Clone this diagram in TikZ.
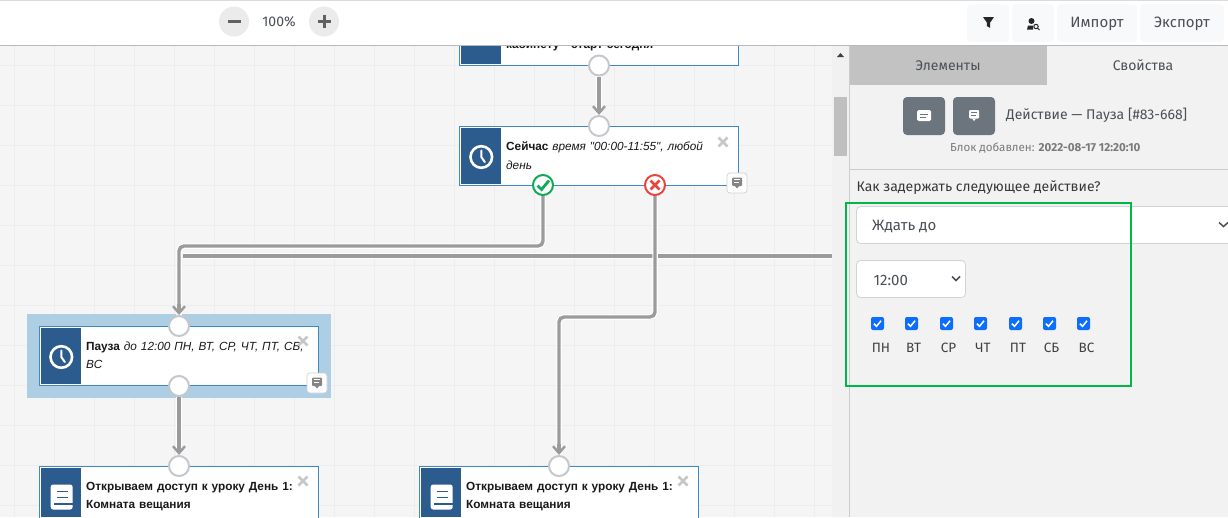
\documentclass[tikz,border=0pt]{standalone}
\usepackage{fontspec}
\setmainfont{Fira Sans}
\newfontfamily\arialf{Liberation Sans}
\usetikzlibrary{arrows.meta,calc}
\definecolor{gridbg}{HTML}{F5F5F5}
\definecolor{gridln}{HTML}{EDEDED}
\definecolor{panelbg}{HTML}{F2F2F2}
\definecolor{blockblue}{HTML}{2C5B8E}
\definecolor{blockedge}{HTML}{3D8BC4}
\definecolor{selbg}{HTML}{AECFE3}
\definecolor{wire}{HTML}{9B9B9B}
\definecolor{portedge}{HTML}{C4C8CC}
\definecolor{txt}{HTML}{495057}
\definecolor{okgreen}{HTML}{0FA958}
\definecolor{badred}{HTML}{E8453C}
\definecolor{framegreen}{HTML}{00B84A}
\definecolor{btnbg}{HTML}{F8F9FA}
\definecolor{btngrey}{HTML}{6C757D}
\definecolor{zoombg}{HTML}{EBEBEB}
\definecolor{checkblue}{HTML}{0D6EFD}
\definecolor{inputedge}{HTML}{CED4DA}
\definecolor{trackbg}{HTML}{F1F1F1}
\tikzset{
 x=1pt,y=-1pt,
 blockbox/.style={draw=blockedge,line width=1pt,fill=white,minimum height=0pt,inner sep=0pt,minimum width=279pt,anchor=north west},
 port/.style={circle,draw=portedge,fill=white,line width=2pt,minimum size=20pt,inner sep=0pt},
 okport/.style={port,draw=okgreen},
 badport/.style={port,draw=badred},
 wireline/.style={draw=white,line width=5.5pt,rounded corners=5pt},
 wiretop/.style={draw=wire,line width=3.4pt,rounded corners=5pt},
 headline/.style={draw=wire,line width=3.4pt,-{Straight Barb[length=7pt,width=12pt,line width=2.4pt]}},
 blocktext/.style={anchor=north west,align=left,text width=#1,inner sep=0pt,font=\arialf\fontsize{11.8}{18.2}\selectfont,text=black!90},
 closex/.style={draw=black!22,line width=2.6pt},
 uitext/.style={inner sep=0pt,text=txt,font=\fontsize{14}{16}\selectfont},
 selecttext/.style={uitext,anchor=west,font=\fontsize{15}{16}\selectfont},
 toolbtn/.style={fill=btnbg,rounded corners=4pt,draw=none},
 roundbtn/.style={circle,fill=zoombg,minimum size=30pt,inner sep=0pt},
 greybtn/.style={fill=btngrey,rounded corners=4pt,draw=none},
 chk/.style={fill=checkblue,rounded corners=2pt,minimum size=13pt,inner sep=0pt},
 chkmark/.style={draw=white,line width=1.5pt},
 daylabel/.style={inner sep=0pt,text=black!75,font=\fontsize{13.5}{14}\selectfont},
 noteicon/.style={fill=white,draw=black!18,line width=.7pt,rounded corners=3pt},
}
\newcommand{\clockicon}[1]{%
 \draw[white,line width=2.6pt] (#1) circle (10.8pt);
 \draw[white,line width=2pt,line cap=round] ($(#1)+(0,-6.5)$) -- ($(#1)+(0,0)$) -- ($(#1)+(3.5,5)$);
}
\newcommand{\bookicon}[1]{%
 \fill[white,rounded corners=2.5pt] ($(#1)+(-11,-12.5)$) rectangle ($(#1)+(11,12.5)$);
 \draw[blockblue,line width=1.1pt] ($(#1)+(-5,-5.3)$) -- ($(#1)+(6,-5.3)$) ($(#1)+(-5,0.3)$) -- ($(#1)+(6,0.3)$);
 \draw[blockblue,line width=2.4pt] ($(#1)+(-7.5,7)$) -- ($(#1)+(11,7)$);
}
\newcommand{\closemark}[1]{%
 \draw[closex] ($(#1)+(-4.5,-4.5)$) -- ($(#1)+(4.5,4.5)$) ($(#1)+(-4.5,4.5)$) -- ($(#1)+(4.5,-4.5)$);
}
\newcommand{\noteglyph}[3]{%
 \fill[#2,rounded corners=1pt] ($(#1)+(-5,-5)$) rectangle ($(#1)+(5,3.5)$);
 \fill[#2] ($(#1)+(-2,3.5)$) -- ($(#1)+(2,3.5)$) -- ($(#1)+(0,6)$) -- cycle;
 \draw[#3,line width=.9pt] ($(#1)+(-3,-2.6)$) -- ($(#1)+(3,-2.6)$) ($(#1)+(-3,0)$) -- ($(#1)+(2,0)$);
}
\newcommand{\chkbox}[4]{%
 \node[chk] (#1) at (#2,323.5) {};
 \draw[chkmark] ($(#1)+(-3.5,0.2)$) -- ($(#1)+(-1,2.8)$) -- ($(#1)+(3.6,-2.8)$);
 \node[daylabel] (#1l) at (#4,348) {#3};
}
\begin{document}
\begin{tikzpicture}
\useasboundingbox (0,0) rectangle (1228,517);
\fill[white] (0,0) rectangle (1228,517);
% canvas
\fill[gridbg] (0,46) rectangle (832,517);
\begin{scope}
\clip (0,46) rectangle (832,517);
\foreach \gx in {14.3,54.3,...,834} \draw[gridln,line width=1pt] (\gx,46) -- (\gx,517);
\foreach \gy in {65.3,105.3,...,505.3} \draw[gridln,line width=1pt] (0,\gy) -- (832,\gy);
\end{scope}
% scrollbar
\fill[trackbg] (832,46) rectangle (849,517);
\fill[black!25] (834,97) rectangle (847,156);
\fill[black!75] (837,57) -- (844,57) -- (840.5,53) -- cycle;
% side panel
\fill[panelbg] (850,46) rectangle (1228,517);
\draw[black!20,line width=.9pt] (849.5,46) -- (849.5,517);
\fill[black!24] (850,46) rectangle (1047,85);
\node[uitext] (tab1) at (948,65.5) {Элементы};
\node[uitext] (tab2) at (1143,65.5) {Свойства};
\fill[greybtn] (903,97) rectangle (945,135);
\fill[greybtn] (953,97) rectangle (995,135);
\fill[white,rounded corners=1.5pt] (917,110) rectangle (931,121);
\draw[btngrey,line width=1pt] (920,114) -- (928,114) (920,117.5) -- (926,117.5);
\noteglyph{974,115}{white}{btngrey}
\node[uitext,anchor=west] (title) at (1006,115.5) {Действие — Пауза [\#83-668]};
\node[inner sep=0pt,anchor=west,text=black!52,font=\fontsize{11.6}{12}\selectfont] (added) at (950,148) {Блок добавлен: \textbf{2022-08-17 12:20:10}};
\draw[black!20,line width=.9pt] (850,169.5) -- (1228,169.5);
\node[uitext,anchor=west,text=black!78] (q) at (856.5,188) {Как задержать следующее действие?};
% form
\begin{scope}
\clip (850,190) rectangle (1228,517);
\draw[inputedge,fill=white,rounded corners=4pt,line width=.8pt] (856.5,206.5) rectangle (1240,243.5);
\end{scope}
\node[selecttext] (s1) at (872,226) {Ждать до};
\draw[txt,line width=1.5pt] (1219,222.5) -- (1223.5,226.5) -- (1228,222.5);
\draw[inputedge,fill=white,rounded corners=4pt,line width=.8pt] (856.5,260.5) rectangle (965.5,297.5);
\node[selecttext] (s2) at (873.5,280.5) {12:00};
\draw[txt,line width=1.5pt] (952,276.5) -- (956,280.5) -- (960,276.5);
\chkbox{c1}{877.5}{ПН}{881}
\chkbox{c2}{911.5}{ВТ}{913.5}
\chkbox{c3}{946.5}{СР}{948.5}
\chkbox{c4}{980.5}{ЧТ}{983}
\chkbox{c5}{1015.5}{ПТ}{1018}
\chkbox{c6}{1049.5}{СБ}{1051.5}
\chkbox{c7}{1083.5}{ВС}{1086.5}
\draw[framegreen,line width=1.7pt] (846,203) rectangle (1131,386);
% selected highlight
\fill[selbg] (27,314) rectangle (331,398);
% blocks
\node[blockbox,minimum height=59pt] (top) at (459,6) {};
\fill[blockblue] (461,8) rectangle (501,64);
\node[blocktext=200pt] (toptext) at (506,39.5) {\textbf{кабинету - старт сегодня}};
\node[blockbox,minimum height=59pt] (now) at (459,126) {};
\fill[blockblue] (461,128) rectangle (501,184);
\clockicon{481.3,157}
\node[blocktext=205pt] (nowtext) at (506,142) {\textbf{Сейчас} \textit{время "00:00-11:55", любой день}};
\closemark{723,142}
\node[blockbox,minimum height=59pt] (pause) at (39,326) {};
\fill[blockblue] (41,328) rectangle (81,384);
\clockicon{61.3,357}
\node[blocktext=221pt] (pausetext) at (86,342) {\textbf{Пауза} \textit{до 12:00 ПН, ВТ, СР, ЧТ, ПТ, СБ, ВС}};
\closemark{303,341}
\begin{scope}
\clip (0,46) rectangle (832,517);
\node[blockbox,minimum height=70pt] (la) at (39,466) {};
\fill[blockblue] (41,468) rectangle (81,517);
\bookicon{61.7,497}
\node[blocktext=218pt] (latext) at (86,482) {\textbf{Открываем доступ к уроку День 1: Комната вещания}};
\closemark{303,481}
\node[blockbox,minimum height=70pt] (lb) at (419,466) {};
\fill[blockblue] (421,468) rectangle (461,517);
\bookicon{441.7,497}
\node[blocktext=218pt] (lbtext) at (466,482) {\textbf{Открываем доступ к уроку День 1: Комната вещания}};
\closemark{683,481}
\end{scope}
% toolbar
\fill[white] (0,0) rectangle (1228,45);
\fill[black!14] (0,0) rectangle (1228,1);
\draw[black!28,line width=.9pt] (0,45.5) -- (1228,45.5);
\node[roundbtn] (zm) at (234,21.5) {};
\draw[black!62,line width=3pt] (227.5,21) -- (240.5,21);
\node[uitext,font=\fontsize{14}{16}\selectfont] (zt) at (279,22) {100\%};
\node[roundbtn] (zp) at (324,21.5) {};
\draw[black!62,line width=3pt] (317.5,21) -- (330.5,21) (324,14.5) -- (324,27.5);
\fill[toolbtn] (967,4) rectangle (1009,42);
\fill[toolbtn] (1012,4) rectangle (1054,42);
\fill[toolbtn] (1057,4) rectangle (1137,42);
\fill[toolbtn] (1140,4) rectangle (1224,42);
\fill[black!85] (983,17) -- (994,17) -- (990.2,22.5) -- (990.2,28) -- (986.8,26) -- (986.8,22.5) -- cycle;
\fill[black!85] (1031.5,21) circle (3pt);
\fill[black!85] (1027,29.5) -- (1028,25.5) -- (1033,25.5) -- (1033,29.5) -- cycle;
\draw[black!85,line width=1pt] (1036,26.5) circle (2.2pt) (1037.6,28.2) -- (1039.5,30);
\node[uitext,font=\fontsize{15}{16}\selectfont] (imp) at (1097,24) {Импорт};
\node[uitext,font=\fontsize{15}{16}\selectfont] (exp) at (1182,23.5) {Экспорт};
% note buttons
\node[noteicon,minimum size=20pt,inner sep=0pt] (n1) at (737,183) {};
\noteglyph{737,182.5}{black!48}{white}
\node[noteicon,minimum size=20pt,inner sep=0pt] (n2) at (317,383) {};
\noteglyph{317,382.5}{black!48}{white}
% connectors
\coordinate (yesmid) at (543,246);
\coordinate (yesleft) at (179,246);
\coordinate (nomid) at (655,317);
\coordinate (noleft) at (559,317);
\coordinate (longl) at (183,256);
\coordinate (longr) at (832,256);
\coordinate (pinhead) at (179,304);
\coordinate (lbhead) at (559,444);
\draw[wireline] (longl) -- (longr);
\draw[wiretop] (longl) -- (longr);
\draw[wireline] (543,195) -- (yesmid) -- (yesleft) -- (179,316);
\draw[wiretop] (543,195) -- (yesmid) -- (yesleft) -- (pinhead);
\draw[wireline] (655,195) -- (nomid) -- (noleft) -- (559,456);
\draw[wiretop] (655,195) -- (nomid) -- (noleft) -- (lbhead);
\draw[wireline] (599,76) -- (599,116);
\draw[wireline] (179,397) -- (179,456);
% ports
\node[port] (topout) at (599,65.5) {};
\node[port] (nowin) at (599,126) {};
\node[okport] (yes) at (543,185) {};
\node[badport] (no) at (655,185) {};
\node[port] (pin) at (179,326) {};
\node[port] (pout) at (179,386) {};
\node[port] (lain) at (179,466) {};
\node[port] (lbin) at (559,466) {};
\draw[okgreen,line width=2.8pt] (537.5,185.5) -- (541.5,189.5) -- (549,180.5);
\draw[badred,line width=2.8pt] (650.5,180.5) -- (659.5,189.5) (650.5,189.5) -- (659.5,180.5);
\draw[headline] (pinhead) -- (pin.north);
\draw[headline] (lbhead) -- (lbin.north);
\draw[headline] (topout.south) -- (nowin.north);
\draw[headline] (pout.south) -- (lain.north);
\end{tikzpicture}
\end{document}
